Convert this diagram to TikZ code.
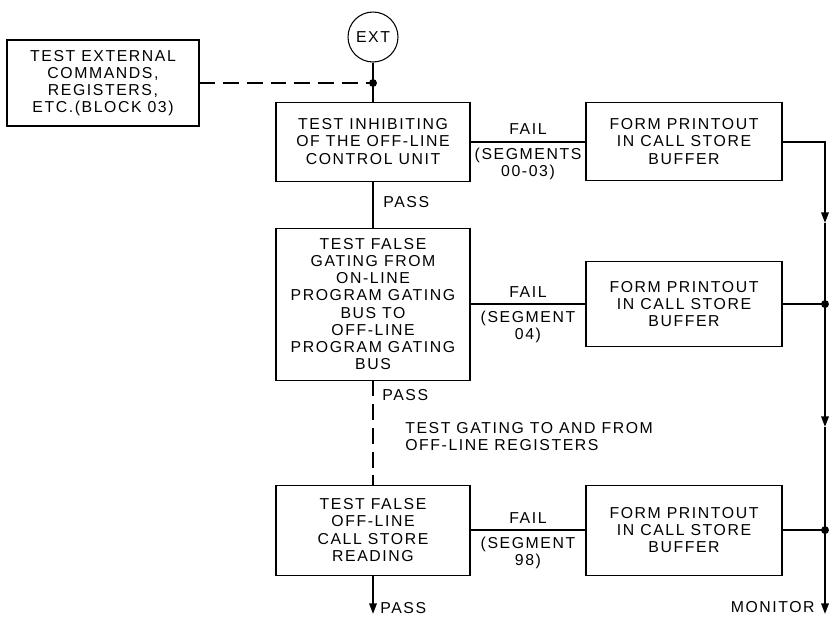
\documentclass[tikz,border=0pt]{standalone}
\usepackage{fontspec}
\setmainfont{Liberation Sans}[LetterSpace=10]
\usetikzlibrary{arrows.meta,positioning,calc}

\begin{document}
\begin{tikzpicture}[
    x=0.02cm, y=-0.02cm,
    font=\fontsize{9}{9.7}\selectfont,
    block/.style={rectangle, draw, line width=0.6pt, minimum width=3.88cm, align=center, inner sep=2pt},
    printout/.style={rectangle, draw, line width=0.6pt, minimum width=3.92cm, align=center, inner sep=2pt},
    link/.style={line width=1.1pt},
    arrow/.style={link, -{Triangle[length=6pt,width=4.2pt]}},
    dashlink/.style={link, dash pattern=on 9pt off 4.5pt},
    junction/.style={circle, fill, inner sep=0pt, minimum size=4.5pt}
]
\useasboundingbox (0,0) rectangle (832,616);

% Entry
\node[circle, draw, line width=0.6pt, minimum size=1cm, inner sep=0pt] (ext) at (373,37) {EXT};

% External commands block
\node[block, minimum width=3.84cm, minimum height=1.72cm] (extcmd) at (103,83) {TEST EXTERNAL\\COMMANDS,\\REGISTERS,\\ETC.(BLOCK 03)};

% Main tests
\node[block, minimum height=1.58cm, below=0.78cm of ext] (inhibit) {TEST INHIBITING\\OF THE OFF-LINE\\CONTROL UNIT};
\node[block, minimum height=3.04cm, below=0.92cm of inhibit] (falsegate) {TEST FALSE\\GATING FROM\\ON-LINE\\PROGRAM GATING\\BUS TO\\OFF-LINE\\PROGRAM GATING\\BUS};
\node[block, minimum height=1.8cm, below=2.08cm of falsegate] (csread) {TEST FALSE\\OFF-LINE\\CALL STORE\\READING};

% Printouts
\node[printout, minimum height=1.56cm, right=2.3cm of inhibit] (print1) {FORM PRINTOUT\\IN CALL STORE\\BUFFER};
\node[printout, minimum height=1.7cm, right=2.3cm of falsegate] (print2) {FORM PRINTOUT\\IN CALL STORE\\BUFFER};
\node[printout, minimum height=1.8cm, right=2.3cm of csread] (print3) {FORM PRINTOUT\\IN CALL STORE\\BUFFER};

% Bus coordinates
\coordinate (join) at (ext.south |- extcmd.east);
\coordinate (bus1) at (825,223);
\coordinate (bus2) at (825,427);
\coordinate (monitor) at (825,614);
\coordinate (exit) at (373,614);

% Arrows
\draw[link] (ext) -- (inhibit);
\draw[dashlink] (extcmd.east) -- (join);
\node[junction] at (join) {};
\draw[link] (inhibit) -- node[right, pos=0.45, xshift=2pt] {PASS} (falsegate);
\draw[dashlink] (falsegate) -- (csread);
\node[anchor=north west, inner sep=0pt] at (382,389) {PASS};
\node[anchor=west, align=left, inner sep=0pt] (gating) at (405,437) {TEST GATING TO AND FROM\\OFF-LINE REGISTERS};
\draw[arrow] (csread) -- (exit);
\node[anchor=west, inner sep=0pt] at (380,608) {PASS};

% Fail branches
\draw[link] (inhibit) -- node[above] {FAIL} node[below, align=center] {(SEGMENTS\\00-03)} (print1);
\draw[link] (falsegate) -- node[above] {FAIL} node[below, align=center] {(SEGMENT\\04)} (print2);
\draw[link] (csread) -- node[above] {FAIL} node[below, align=center] {(SEGMENT\\98)} (print3);

% Right bus
\draw[arrow] (print1.east) -| (bus1);
\draw[arrow] (bus1) -- (bus2);
\draw[arrow] (bus2) -- (monitor);
\draw[link] (print2.east) -- (print2.east -| bus1) node[junction] {};
\draw[link] (print3.east) -- (print3.east -| bus1) node[junction] {};
\node[anchor=east, inner sep=0pt] at (815,607) {MONITOR};

\end{tikzpicture}
\end{document}
